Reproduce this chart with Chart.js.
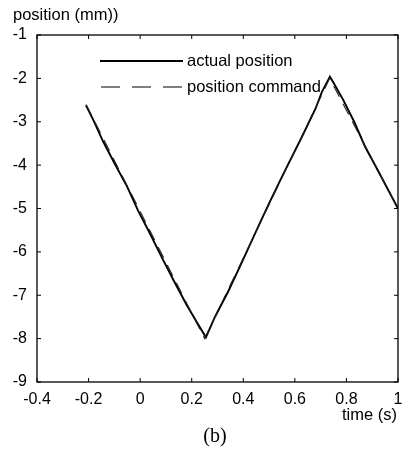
<!DOCTYPE html>
<html>
<head>
<meta charset="utf-8">
<script src="https://cdn.jsdelivr.net/npm/chart.js@4"></script>
<style>
  html, body { margin: 0; padding: 0; background: #fff; }
  #wrap { width: 407px; height: 452px; }
</style>
</head>
<body>
<div id="wrap"><canvas id="posChart"></canvas></div>
<script>
// time (s) and position (mm)
const actualTime = [-0.21, -0.18, -0.144, -0.1, -0.05, -0.008, 0.04, 0.085, 0.13, 0.18, 0.22, 0.255,
  0.29, 0.34, 0.39, 0.457, 0.5, 0.554, 0.628, 0.68, 0.705, 0.736, 0.75, 0.787, 0.83, 0.872, 0.92, 0.96, 1.0];
const actualPos = [-2.62, -2.98, -3.45, -3.95, -4.5, -5.05, -5.6, -6.14, -6.66, -7.22, -7.62, -7.97,
  -7.5, -6.93, -6.3, -5.43, -4.88, -4.22, -3.34, -2.7, -2.31, -1.96, -2.1, -2.49, -3.0, -3.57, -4.1, -4.55, -5.0];
const commandTime = [-0.21, 0.25, 0.735, 1.0];
const commandPos = [-2.6, -8.0, -2.0, -5.0];
const xTicks = [-0.4, -0.2, 0, 0.2, 0.4, 0.6, 0.8, 1];
const yTicks = [-1, -2, -3, -4, -5, -6, -7, -8, -9];
const seriesNames = ["actual position", "position command"];

const toPoints = (xs, ys) => xs.map((x, i) => ({ x: x, y: ys[i] }));
const FONT = "'Liberation Sans', Arial, sans-serif";

// box, inward ticks, legend and labels
const decor = {
  id: "decor",
  afterDraw(chart) {
    const ctx = chart.ctx;
    const a = chart.chartArea;
    const xs = chart.scales.x, ys = chart.scales.y;
    ctx.save();
    ctx.strokeStyle = "#000";
    ctx.lineWidth = 1.3;
    ctx.strokeRect(a.left, a.top, a.right - a.left, a.bottom - a.top);
    ctx.lineWidth = 1;
    ctx.beginPath();
    xTicks.forEach(v => {
      const px = xs.getPixelForValue(v);
      ctx.moveTo(px, a.bottom); ctx.lineTo(px, a.bottom - 4);
      ctx.moveTo(px, a.top); ctx.lineTo(px, a.top + 4);
    });
    yTicks.forEach(v => {
      const py = ys.getPixelForValue(v);
      ctx.moveTo(a.left, py); ctx.lineTo(a.left + 4, py);
      ctx.moveTo(a.right, py); ctx.lineTo(a.right - 4, py);
    });
    ctx.stroke();

    // legend
    ctx.fillStyle = "#000";
    ctx.font = "16.5px " + FONT;
    ctx.textBaseline = "middle";
    ctx.textAlign = "left";
    ctx.lineWidth = 1.8;
    ctx.beginPath(); ctx.moveTo(100, 61); ctx.lineTo(183, 61); ctx.stroke();
    ctx.fillText(seriesNames[0], 187, 61);
    ctx.lineWidth = 1.1;
    ctx.setLineDash([19, 12]);
    ctx.beginPath(); ctx.moveTo(101, 87); ctx.lineTo(183, 87); ctx.stroke();
    ctx.setLineDash([]);
    ctx.fillText(seriesNames[1], 187, 87);

    // axis labels
    ctx.fillText("position (mm))", 13, 15);
    ctx.textAlign = "right";
    ctx.fillText("time (s)", 397, 415);
    ctx.textAlign = "center";
    ctx.font = "20px 'Liberation Serif', 'Times New Roman', serif";
    ctx.fillText("(b)", 215, 437);
    ctx.restore();
  }
};

new Chart(document.getElementById("posChart"), {
  type: "scatter",
  data: {
    datasets: [
      {
        label: seriesNames[1],
        data: toPoints(commandTime, commandPos),
        showLine: true,
        borderColor: "#222",
        borderWidth: 1.1,
        borderDash: [12, 8],
        pointRadius: 0,
        tension: 0
      },
      {
        label: seriesNames[0],
        data: toPoints(actualTime, actualPos),
        showLine: true,
        borderColor: "#000",
        borderWidth: 1.9,
        pointRadius: 0,
        tension: 0
      }
    ]
  },
  options: {
    responsive: true,
    maintainAspectRatio: false,
    animation: false,
    layout: { padding: { left: 0, right: 9, top: 35, bottom: 0 } },
    plugins: { legend: { display: false }, tooltip: { enabled: false } },
    scales: {
      x: {
        type: "linear",
        min: -0.4,
        max: 1,
        afterBuildTicks: s => { s.ticks = xTicks.map(v => ({ value: v })); },
        afterFit: s => { s.height = 70; },
        grid: { display: false },
        border: { display: false },
        ticks: {
          color: "#000",
          font: { family: FONT, size: 16 },
          padding: 0,
          maxRotation: 0,
          autoSkip: false,
          callback: v => String(Math.round(v * 10) / 10)
        }
      },
      y: {
        type: "linear",
        min: -9,
        max: -1,
        afterBuildTicks: s => { s.ticks = yTicks.map(v => ({ value: v })); },
        afterFit: s => { s.width = 37; },
        grid: { display: false },
        border: { display: false },
        ticks: {
          color: "#000",
          font: { family: FONT, size: 16 },
          padding: 2,
          autoSkip: false
        }
      }
    }
  },
  plugins: [decor]
});
</script>
</body>
</html>
